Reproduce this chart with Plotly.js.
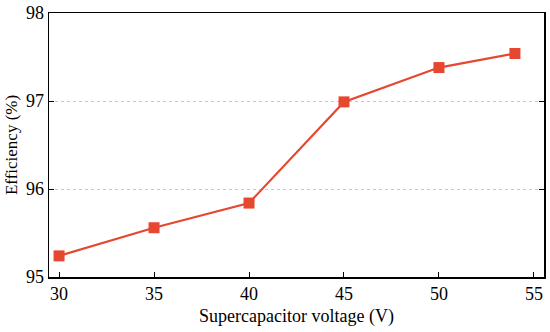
<!DOCTYPE html>
<html><head><meta charset="utf-8">
<script src="https://cdn.plot.ly/plotly-3.0.1.min.js"></script>
<style>html,body{margin:0;padding:0;background:#fff}#c{width:550px;height:332px}</style>
</head><body><div id="c"></div>
<script>
var voltage = [30, 35, 40, 45, 50, 54];
var efficiency = [95.24, 95.56, 95.84, 96.99, 97.38, 97.54];
var xTicks = [30, 35, 40, 45, 50, 55];
var yTicks = [95, 96, 97, 98];

var trace = {
  x: voltage, y: efficiency, type: 'scatter', mode: 'lines+markers',
  line: {color: '#e5472f', width: 2.2},
  marker: {symbol: 'square', size: 11, color: '#e5472f'}
};
var ff = '"Liberation Serif", "Times New Roman", serif';
var tickFont = {family: ff, size: 18, color: '#000'};
var titleFont = {family: ff, size: 18, color: '#000'};
var layout = {
  width: 550, height: 332,
  margin: {l: 49, r: 6, t: 13, b: 55},
  paper_bgcolor: '#fff', plot_bgcolor: '#fff',
  font: tickFont,
  showlegend: false,
  xaxis: {
    range: [29.47, 55.53], tickvals: xTicks, ticktext: xTicks.map(String),
    ticks: 'inside', ticklen: 5, tickwidth: 1, tickcolor: '#000',
    showline: true, linecolor: '#000', linewidth: 1.5, mirror: true,
    showgrid: false, zeroline: false, tickfont: tickFont,
    title: {text: 'Supercapacitor voltage (V)', font: titleFont, standoff: 6}
  },
  yaxis: {
    range: [95, 98], tickvals: yTicks, ticktext: yTicks.map(String),
    ticks: 'inside', ticklen: 5, tickwidth: 1, tickcolor: '#000',
    showline: true, linecolor: '#000', linewidth: 1.5, mirror: 'ticks',
    showgrid: true, gridcolor: '#c8c8c8', griddash: 'dot', gridwidth: 1,
    zeroline: false, tickfont: tickFont,
    title: {text: 'Efficiency (%)', font: {family: ff, size: 17, color: '#000'}, standoff: 4}
  }
};
Plotly.newPlot('c', [trace], layout, {displayModeBar: false, staticPlot: true});
</script></body></html>
